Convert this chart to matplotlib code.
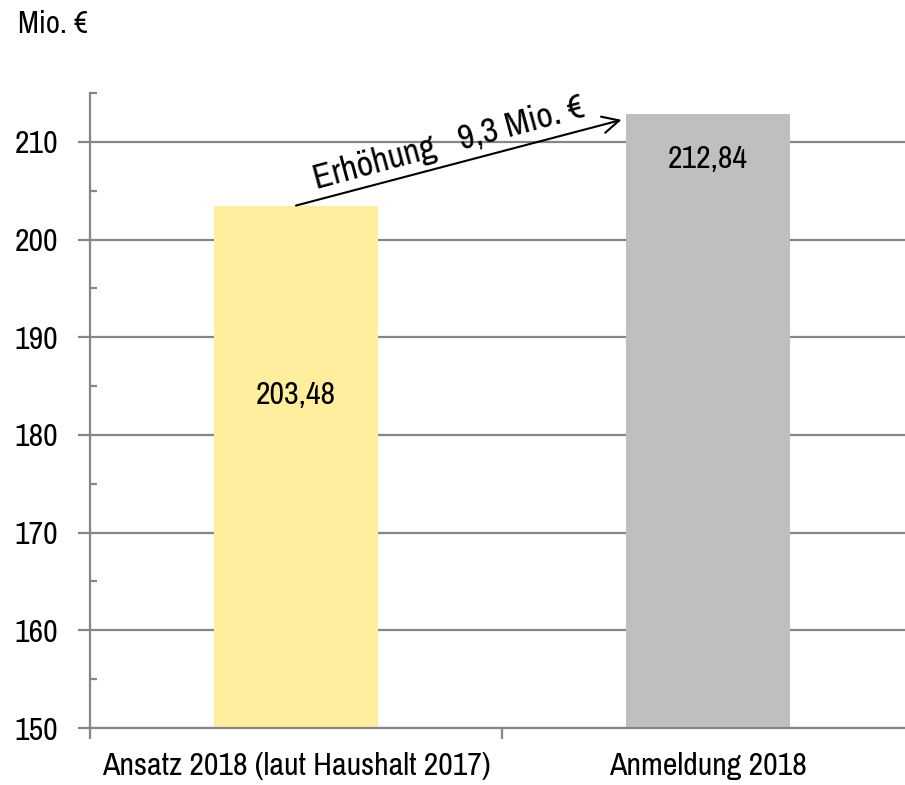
import matplotlib
matplotlib.use("Agg")
import matplotlib.pyplot as plt
from matplotlib.ticker import MultipleLocator

plt.rcParams['font.family'] = ['Archivo Narrow', 'Liberation Sans', 'DejaVu Sans']

categories = ["Ansatz 2018 (laut Haushalt 2017)", "Anmeldung 2018"]
values = [203.48, 212.84]
value_labels = ["203,48", "212,84"]
label_y = [184.1, 208.2]
bar_colors = ["#FFEE9E", "#BFBFBF"]
yticks = [150, 160, 170, 180, 190, 200, 210]
increase_text = "Erhöhung   9,3 Mio. €"
unit_label = "Mio. €"

W, H = 905, 785
fig = plt.figure(figsize=(W / 100, H / 100), dpi=100)
ax = fig.add_axes([90 / W, 1 - 728 / H, (914 - 90) / W, (728 - 93) / H])

x = list(range(len(categories)))
ax.bar(x, values, width=0.4, color=bar_colors, zorder=2)
ax.set_xlim(-0.5, 1.5)
ax.set_ylim(150, 215)

gray = "#868686"
FS = 23
ax.set_yticks(yticks)
ax.yaxis.set_minor_locator(MultipleLocator(5))
ax.grid(axis='y', which='major', color=gray, linewidth=1.6, zorder=1)
ax.tick_params(axis='y', which='major', direction='out', length=9, width=1.6,
               color=gray, labelsize=FS, pad=14)
ax.tick_params(axis='y', which='minor', direction='in', length=5, width=1.6,
               color=gray)
ax.set_xticks([-0.5, 0.5, 1.5])
ax.set_xticklabels([])
ax.set_xticks(x, minor=True)
ax.set_xticklabels(categories, minor=True)
ax.tick_params(axis='x', which='major', direction='out', length=8, width=1.6, color=gray)
ax.tick_params(axis='x', which='minor', length=0, labelsize=FS, pad=17)

for s in ['top', 'right']:
    ax.spines[s].set_visible(False)
for s in ['left', 'bottom']:
    ax.spines[s].set_color(gray)
    ax.spines[s].set_linewidth(1.6)

for xi, lab, ly in zip(x, value_labels, label_y):
    ax.text(xi, ly, lab, ha='center', va='center', fontsize=FS, zorder=3)

ax.annotate("", xy=(0.79, 212.25), xytext=(0.0, values[0]),
            arrowprops=dict(arrowstyle='->', color='black', lw=1.5,
                            mutation_scale=30, shrinkA=0, shrinkB=0), zorder=4)
ax.text(0.37, 209.9, increase_text, rotation=15.1, ha='center', va='center',
        fontsize=25.5, rotation_mode='anchor', zorder=4)

fig.text(18 / W, 1 - 24 / H, unit_label, ha='left', va='center', fontsize=22)

fig.savefig("out.png", dpi=100)
